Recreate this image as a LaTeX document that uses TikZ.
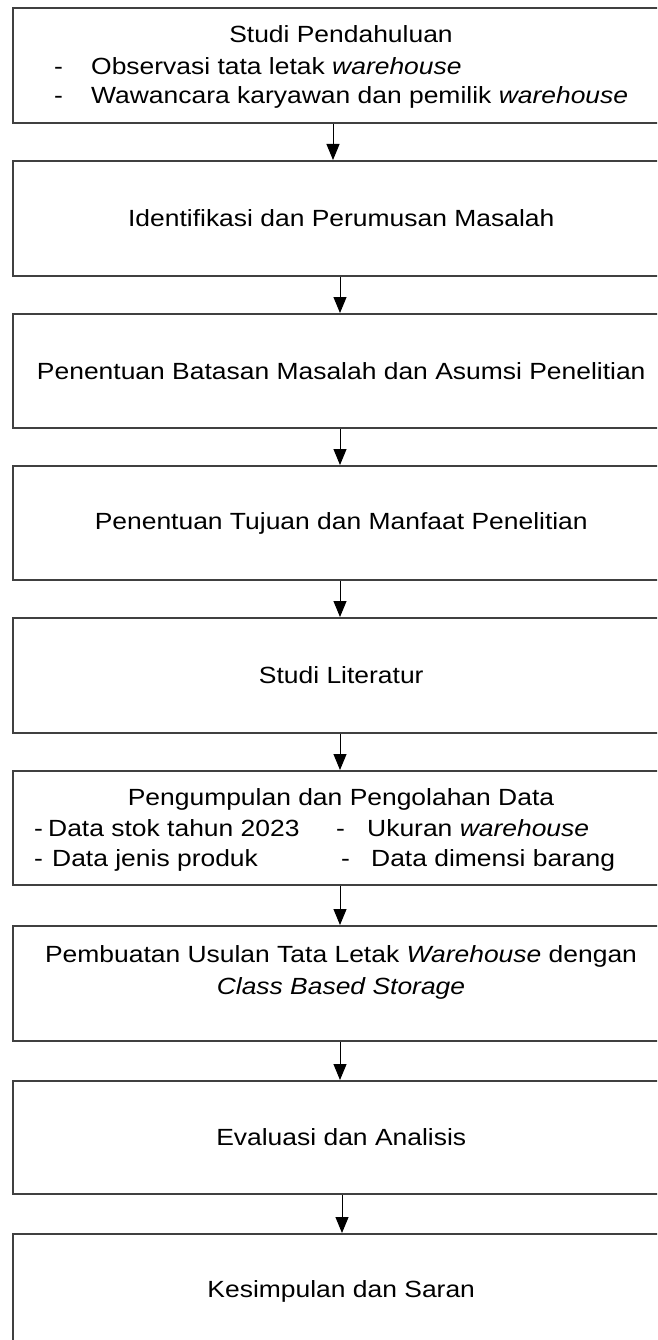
\documentclass[tikz,border=0pt]{standalone}
\usepackage{fontspec}
\setmainfont[FakeStretch=1.13]{Liberation Sans}
\usetikzlibrary{arrows.meta}
\definecolor{boxline}{RGB}{64,64,64}
\newcommand\dfont{\fontsize{23.4}{30}\selectfont}
\begin{document}
\begin{tikzpicture}[x=1pt,y=-1pt,
  box/.style={draw=boxline,line width=2pt,rectangle,minimum width=657.5pt,
    inner sep=0pt,anchor=north,font=\dfont},
  lbl/.style={inner sep=0pt,anchor=base,font=\dfont},
  lblw/.style={inner sep=0pt,anchor=base west,font=\dfont},
  arr/.style={-{Triangle[length=16pt,width=13pt]},line width=1pt,black}]
\useasboundingbox (0,0) rectangle (657,1340);
\clip (0,0) rectangle (657,1340);
% boxes
\node[box,minimum height=115pt] (b1) at (341.25,7) {};
\node[box,minimum height=115pt] (b2) at (341.25,160) {Identifikasi dan Perumusan Masalah};
\node[box,minimum height=114pt] (b3) at (341.25,313) {Penentuan Batasan Masalah dan Asumsi Penelitian};
\node[box,minimum height=114pt] (b4) at (341.25,465) {Penentuan Tujuan dan Manfaat Penelitian};
\node[box,minimum height=115pt] (b5) at (341.25,617) {Studi Literatur};
\node[box,minimum height=114pt] (b6) at (341.25,770) {};
\node[box,minimum height=115pt] (b7) at (341.25,925) {};
\node[box,minimum height=113pt] (b8) at (341.25,1080) {Evaluasi dan Analisis};
\node[box,minimum height=115pt] (b9) at (341.25,1233) {Kesimpulan dan Saran};
% box 1 text
\node[lbl] (t1a) at (341,43) {Studi Pendahuluan};
\node[lblw] (t1b) at (54,75) {-};
\node[lblw] (t1c) at (91,75) {Observasi tata letak \textit{warehouse}};
\node[lblw] (t1d) at (54,104) {-};
\node[lblw] (t1e) at (91,104) {Wawancara karyawan dan pemilik \textit{warehouse}};
% box 6 text
\node[lbl] (t6a) at (341,805) {Pengumpulan dan Pengolahan Data};
\node[lblw] (t6b) at (34,836) {-};
\node[lblw] (t6c) at (48,836) {Data stok tahun 2023};
\node[lblw] (t6d) at (336,836) {-};
\node[lblw] (t6e) at (367,836) {Ukuran \textit{warehouse}};
\node[lblw] (t6f) at (34,866) {-};
\node[lblw] (t6g) at (52,866) {Data jenis produk};
\node[lblw] (t6h) at (341,866) {-};
\node[lblw] (t6i) at (371,866) {Data dimensi barang};
% box 7 text
\node[lbl] (t7a) at (341,962) {Pembuatan Usulan Tata Letak \textit{Warehouse} dengan};
\node[lbl] (t7b) at (341,994) {\textit{Class Based Storage}};
% arrows
\draw[arr] ([xshift=-8.25pt]b1.south) -- ([xshift=-8.25pt]b2.north);
\draw[arr] ([xshift=-1.25pt]b2.south) -- ([xshift=-1.25pt]b3.north);
\draw[arr] ([xshift=-1.25pt]b3.south) -- ([xshift=-1.25pt]b4.north);
\draw[arr] ([xshift=-1.25pt]b4.south) -- ([xshift=-1.25pt]b5.north);
\draw[arr] ([xshift=-1.25pt]b5.south) -- ([xshift=-1.25pt]b6.north);
\draw[arr] ([xshift=-1.25pt]b6.south) -- ([xshift=-1.25pt]b7.north);
\draw[arr] ([xshift=-1.25pt]b7.south) -- ([xshift=-1.25pt]b8.north);
\draw[arr] ([xshift=0.75pt]b8.south) -- ([xshift=0.75pt]b9.north);
\end{tikzpicture}
\end{document}
